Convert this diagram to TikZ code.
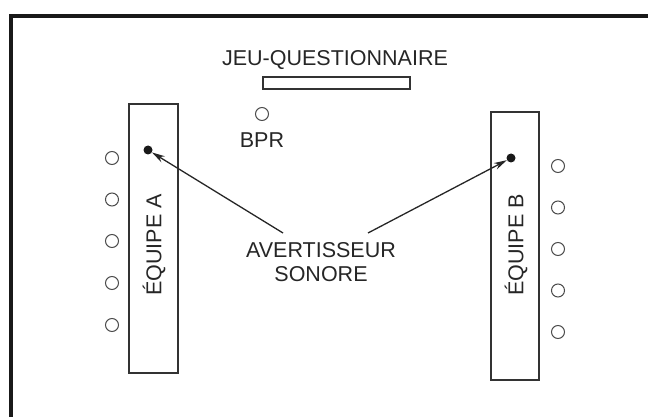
\documentclass[tikz,border=0pt]{standalone}
\usepackage{fontspec}
\setmainfont{Liberation Sans}
\usetikzlibrary{arrows.meta}

\begin{document}
\begin{tikzpicture}[x=1pt,y=-1pt,
    seat/.style={shape=circle,draw=black!70,line width=1pt,minimum size=13pt,inner sep=0pt},
    buzzer/.style={shape=circle,fill=black!90,minimum size=9pt,inner sep=0pt},
    teambox/.style={draw=black!80,line width=1.3pt,minimum width=49pt,inner sep=0pt},
    roomtext/.style={text=black!85,font=\fontsize{21.5}{24}\selectfont,inner sep=0pt},
    arrowline/.style={draw=black!85,line width=1.3pt,-{Stealth[length=13pt,width=7pt]}}]
    \useasboundingbox (0,0) rectangle (648,417);
    \clip (0,0) rectangle (648,417);
    % frame
    \draw[line width=4.5pt,black!90] (700,16) -- (11,16) -- (11,450);
    % host table
    \node[roomtext,anchor=base] (title) at (335,66) {JEU-QUESTIONNAIRE};
    \node[draw=black!80,line width=1.3pt,minimum width=147pt,minimum height=12pt,inner sep=0pt] (display) at (336.5,83) {};
    \node[seat] (bpr) at (262,114) {};
    \node[roomtext,anchor=base] (bprtext) at (262,148) {BPR};
    % teams
    \node[teambox,minimum height=269pt] (teamA) at (153.5,238.5) {};
    \node[teambox,minimum height=268pt,minimum width=48pt] (teamB) at (515,246) {};
    \node[roomtext,rotate=90] (teamAtext) at (154,245) {ÉQUIPE A};
    \node[roomtext,rotate=90] (teamBtext) at (516,245) {ÉQUIPE B};
    \node[buzzer] (dotA) at (148,150) {};
    \node[buzzer] (dotB) at (511,158) {};
    % players A
    \node[seat] (a1) at (112,158) {};
    \node[seat] (a2) at (112,199.5) {};
    \node[seat] (a3) at (112,241) {};
    \node[seat] (a4) at (112,283) {};
    \node[seat] (a5) at (112,325) {};
    % players B
    \node[seat] (b1) at (558,166) {};
    \node[seat] (b2) at (558,207.5) {};
    \node[seat] (b3) at (558,249) {};
    \node[seat] (b4) at (558,290.5) {};
    \node[seat] (b5) at (558,332) {};
    % buzzer label
    \node[roomtext,align=center] (avert) at (321,262.5) {AVERTISSEUR\\SONORE};
    \coordinate (tailA) at (283,233);
    \coordinate (tailB) at (368,233);
    \draw[arrowline] (tailA) -- (dotA);
    \draw[arrowline] (tailB) -- (dotB);
\end{tikzpicture}
\end{document}
